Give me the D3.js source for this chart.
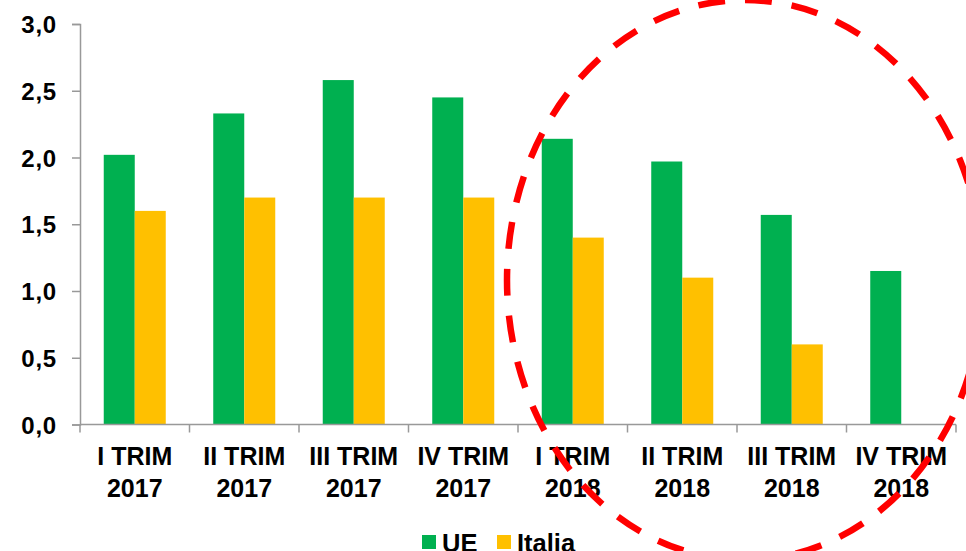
<!DOCTYPE html>
<meta charset="utf-8">
<script src="https://d3js.org/d3.v7.min.js"></script>
<style>
  body { margin: 0; background: #fff; }
  text { font-family: "Liberation Sans", Arial, sans-serif; font-weight: bold; fill: #000; }
</style>
<div id="chart"></div>
<script>
  // data
  const quarters = ["I TRIM|2017", "II TRIM|2017", "III TRIM|2017", "IV TRIM|2017",
                    "I TRIM|2018", "II TRIM|2018", "III TRIM|2018", "IV TRIM|2018"];
  const seriesNames = ["UE", "Italia"];
  const ueValues = [2.02, 2.33, 2.58, 2.45, 2.14, 1.97, 1.57, 1.15];
  const italiaValues = [1.6, 1.7, 1.7, 1.7, 1.4, 1.1, 0.6, null];
  const yTicks = [0, 0.5, 1, 1.5, 2, 2.5, 3];
  const colors = ["#00B050", "#FFC000"];

  const width = 966, height = 551;
  const margin = {top: 24, right: 10, bottom: 126.5, left: 80};
  const plotW = 956 - margin.left, plotH = height - margin.top - margin.bottom;

  const svg = d3.select("#chart").append("svg")
      .attr("width", width)
      .attr("height", height);

  const g = svg.append("g")
      .attr("transform", "translate(" + margin.left + "," + margin.top + ")");

  // scales
  const x0 = d3.scaleBand().domain(quarters).range([0, plotW]).padding(0);
  const x1 = d3.scaleBand().domain(seriesNames).range([0, x0.bandwidth()])
      .paddingInner(0).paddingOuter(0.766);
  const y = d3.scaleLinear().domain([0, 3]).range([plotH, 0]);

  const rows = quarters.map((q, i) => ({q: q, vals: [ueValues[i], italiaValues[i]]}));

  // bars
  const groups = g.selectAll(".grp").data(rows).enter().append("g")
      .attr("transform", d => "translate(" + x0(d.q) + ",0)");
  groups.selectAll("rect")
      .data(d => d.vals.map((v, j) => ({name: seriesNames[j], v: v, c: colors[j]})).filter(d => d.v != null))
      .enter().append("rect")
        .attr("x", d => x1(d.name))
        .attr("width", x1.bandwidth())
        .attr("y", d => y(d.v))
        .attr("height", d => plotH - y(d.v))
        .style("fill", d => d.c);

  // y axis
  const yAxis = g.append("g")
      .call(d3.axisLeft(y).tickValues(yTicks).tickSize(8).tickPadding(15)
        .tickFormat(d => d3.format(".1f")(d).replace(".", ",")));
  yAxis.selectAll("path, line").attr("stroke", "#999").attr("stroke-width", 1.5);
  yAxis.selectAll("text").style("font-size", "24px").style("letter-spacing", "0.8px")
      .attr("dy", "0.36em");

  // x axis with ticks on category boundaries
  const xAxis = g.append("g").attr("transform", "translate(0," + plotH + ")");
  xAxis.append("line").attr("x1", 0).attr("x2", plotW)
      .attr("stroke", "#999").attr("stroke-width", 1.5);
  xAxis.selectAll(".tk").data(quarters.concat(["end"])).enter().append("line")
      .attr("x1", (d, i) => i * x0.step()).attr("x2", (d, i) => i * x0.step())
      .attr("y1", 0).attr("y2", 8)
      .attr("stroke", "#999").attr("stroke-width", 1.5);
  const lbl = xAxis.selectAll(".lbl").data(quarters).enter().append("text")
      .attr("text-anchor", "middle")
      .style("font-size", "25px")
      .attr("transform", d => "translate(" + (x0(d) + x0.bandwidth() / 2) + ",0)");
  lbl.append("tspan").attr("x", 0).attr("y", 40.5).text(d => d.split("|")[0]);
  lbl.append("tspan").attr("x", 0).attr("y", 72.2).text(d => d.split("|")[1]);

  // legend
  const legend = svg.append("g").attr("transform", "translate(422,535)");
  const legX = [0, 75];
  seriesNames.forEach((n, i) => {
    legend.append("rect").attr("x", legX[i]).attr("y", 0)
        .attr("width", 14).attr("height", 14).style("fill", colors[i]);
    legend.append("text").attr("x", legX[i] + 20).attr("y", 16.5)
        .style("font-size", "25.5px").text(n);
  });

  // red dashed ellipse overlay
  svg.append("ellipse")
      .attr("cx", 745).attr("cy", 280)
      .attr("rx", 238).attr("ry", 280)
      .style("fill", "none")
      .style("stroke", "#FF0000")
      .style("stroke-width", 6.5)
      .style("stroke-dasharray", "27,20");
</script>
